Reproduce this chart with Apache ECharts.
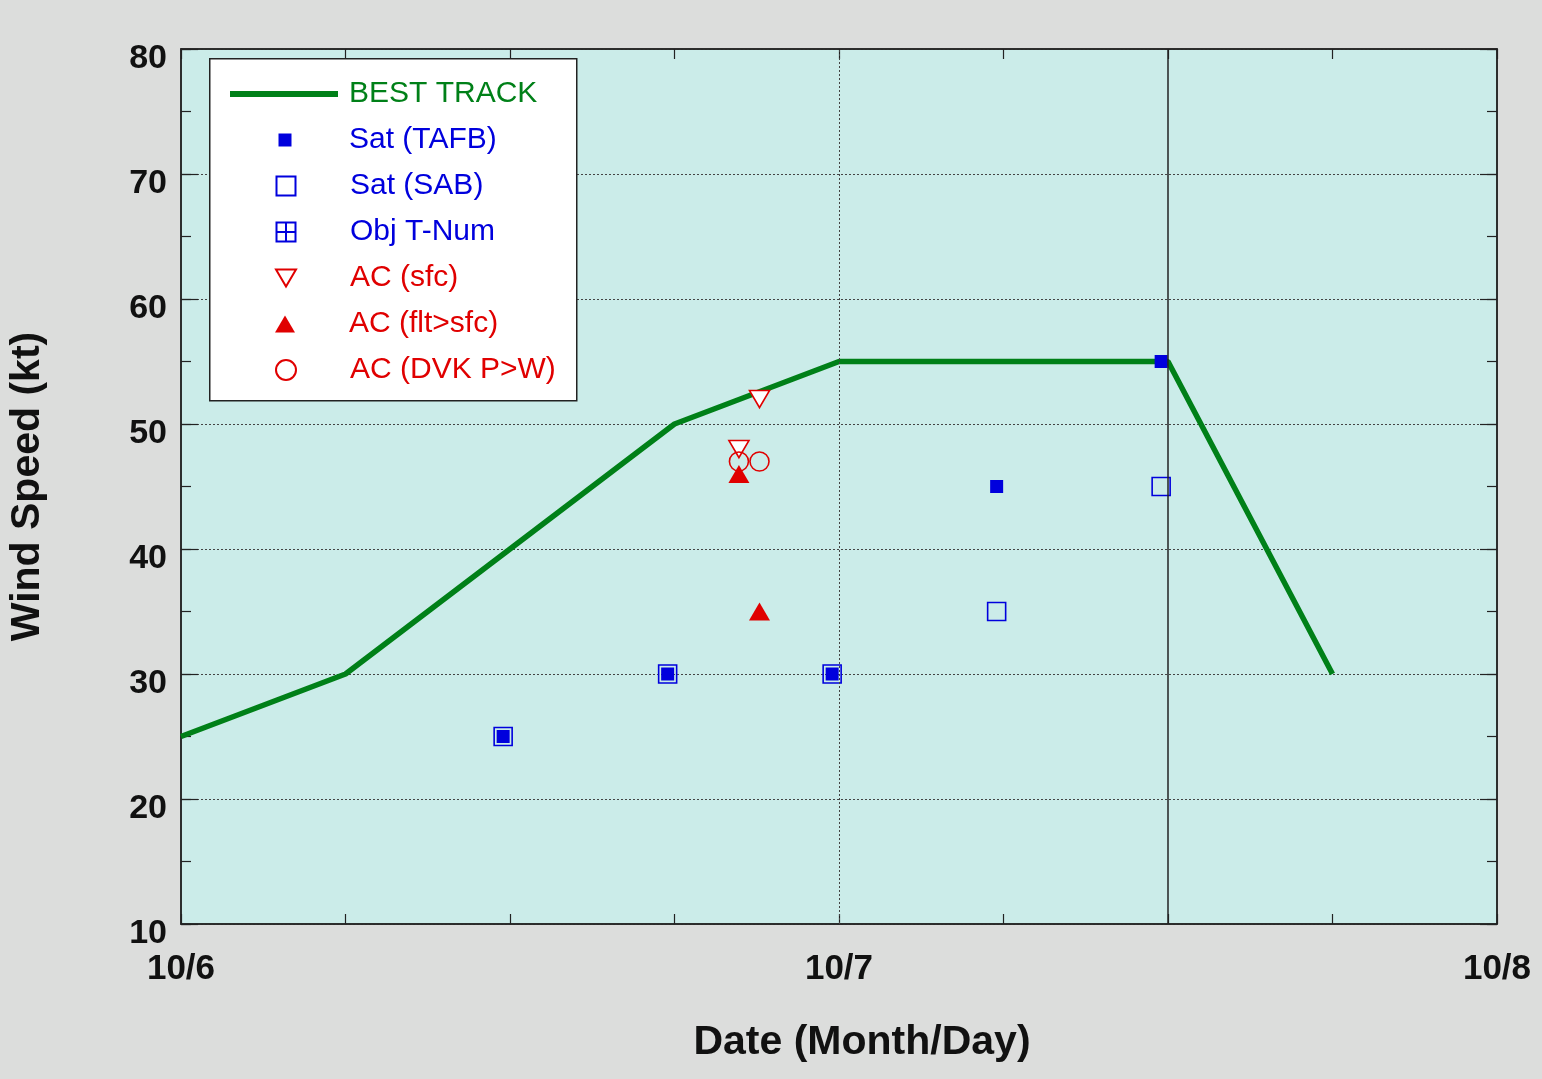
<!DOCTYPE html>
<html>
<head>
<meta charset="utf-8">
<script src="https://cdn.jsdelivr.net/npm/echarts@6/dist/echarts.min.js"></script>
<style>
html,body{margin:0;padding:0;background:#dcdddc;}
#c{width:1542px;height:1079px;}
</style>
</head>
<body>
<div id="c"></div>
<script>
// Hours after 10/6 00Z
const xTickLabels = {0: '10/6', 24: '10/7', 48: '10/8'};
const yTicks = [10, 20, 30, 40, 50, 60, 70, 80];

const btHours = [0, 6, 12, 18, 24, 30, 36, 42];
const btWind  = [25, 30, 40, 50, 55, 55, 55, 30];

const tafbHours = [11.75, 17.75, 23.75, 29.75, 35.75];
const tafbWind  = [25, 30, 30, 45, 55];

const sabHours = [11.75, 17.75, 23.75, 29.75, 35.75];
const sabWind  = [25, 30, 30, 35, 45];

const objHours = [];
const objWind  = [];

const acSfcHours = [20.35, 21.1];
const acSfcWind  = [48, 52];

const acFltHours = [20.35, 21.1];
const acFltWind  = [46, 35];

const dvkHours = [20.35, 21.1];
const dvkWind  = [47, 47];

const GREEN = '#008018', BLUE = '#0000dd', RED = '#e00000';
const FONT = "'Liberation Sans', Arial, sans-serif";

const zip = (a, b) => a.map((v, i) => [v, b[i]]);

const invTri = 'path://M0,0L20,0L10,17Z';
const boxPlus = 'path://M0,0L18,0L18,18L0,18Z M9,0L9,18 M0,9L18,9';

// legend rows: name, colour, icon, icon width, icon height
const legendNames  = ['BEST TRACK', 'Sat (TAFB)', 'Sat (SAB)', 'Obj T-Num', 'AC (sfc)', 'AC (flt>sfc)', 'AC (DVK P>W)'];
const legendColors = [GREEN, BLUE, BLUE, BLUE, RED, RED, RED];
const legendIcons  = ['rect', 'rect', 'rect', boxPlus, invTri, 'triangle', 'circle'];
const legendW      = [108, 13, 19, 19, 20, 20, 20];
const legendH      = [6, 13, 19, 19, 17, 17, 20];

const LEG_X0 = 230, LEG_CX = 285, LEG_TEXT_X = 349, LEG_Y0 = 92, LEG_DY = 46.0;
const legends = legendNames.map((n, i) => {
  const w = legendW[i];
  const left = i === 0 ? LEG_X0 : LEG_CX - w / 2;
  return {
    orient: 'vertical', left: left, top: LEG_Y0 + i * LEG_DY - 13, padding: 0, z: 6,
    itemWidth: w, itemHeight: legendH[i], selectedMode: false,
    textStyle: {fontFamily: FONT, fontSize: 30, lineHeight: 30, color: legendColors[i],
                padding: [0, 0, 0, LEG_TEXT_X - left - w - 5]},
    data: [{name: n, icon: legendIcons[i]}]
  };
});

const tickStyle = {color: '#222', width: 1.2};
const yBase = {type: 'value', min: yTicks[0], max: yTicks[yTicks.length - 1]};

const chart = echarts.init(document.getElementById('c'), null, {renderer: 'canvas'});
chart.setOption({
  backgroundColor: '#dcdddc',
  animation: false,
  grid: {left: 181, right: 45, top: 49, bottom: 155, show: true, outerBoundsMode: 'none', containLabel: false,
         backgroundColor: '#cbece9', borderColor: '#222', borderWidth: 1.5},
  graphic: [{
    type: 'rect', left: 209, top: 58, z: 5,
    shape: {width: 367, height: 342},
    style: {fill: '#ffffff', stroke: '#222', lineWidth: 1.5}
  }],
  legend: legends,
  xAxis: [{
    type: 'value', min: 0, max: 48, interval: 6,
    axisLine: {show: true, lineStyle: {color: '#222', width: 1.5}},
    axisTick: {show: true, inside: true, length: 10, lineStyle: tickStyle},
    splitLine: {show: false},
    axisLabel: {show: true, margin: 28, fontFamily: FONT, fontWeight: 'bold', fontSize: 35, color: '#111',
      formatter: v => xTickLabels[v] || ''},
    name: 'Date (Month/Day)', nameLocation: 'middle', nameGap: 98, nameMoveOverlap: false,
    nameTextStyle: {fontFamily: FONT, fontWeight: 'bold', fontSize: 41, color: '#111', padding: [0, 0, 0, 46]}
  }, {
    type: 'value', min: 0, max: 48, interval: 6, position: 'top',
    axisLine: {show: true, lineStyle: {color: '#222', width: 1.5}},
    axisTick: {show: true, inside: true, length: 10, lineStyle: tickStyle},
    axisLabel: {show: false}, splitLine: {show: false}
  }],
  yAxis: [Object.assign({}, yBase, {
    interval: 10, position: 'left',
    axisLine: {show: true, lineStyle: {color: '#222', width: 1.5}},
    axisTick: {show: true, inside: true, length: 17, lineStyle: tickStyle},
    splitLine: {show: true, lineStyle: {color: '#444', width: 1, type: [2, 2]}},
    axisLabel: {margin: 14, fontFamily: FONT, fontWeight: 'bold', fontSize: 34, color: '#111',
                verticalAlign: 'top', lineHeight: 20},
    name: 'Wind Speed (kt)', nameLocation: 'middle', nameGap: 133, nameMoveOverlap: false,
    nameTextStyle: {fontFamily: FONT, fontWeight: 'bold', fontSize: 41, color: '#111'}
  }), Object.assign({}, yBase, {
    interval: 5, position: 'left',
    axisLine: {show: false},
    axisTick: {show: true, inside: true, length: 10, lineStyle: tickStyle},
    axisLabel: {show: false}, splitLine: {show: false}
  }), Object.assign({}, yBase, {
    interval: 10, position: 'right',
    axisLine: {show: true, lineStyle: {color: '#222', width: 1.5}},
    axisTick: {show: true, inside: true, length: 17, lineStyle: tickStyle},
    axisLabel: {show: false}, splitLine: {show: false}
  }), Object.assign({}, yBase, {
    interval: 5, position: 'right',
    axisLine: {show: false},
    axisTick: {show: true, inside: true, length: 10, lineStyle: tickStyle},
    axisLabel: {show: false}, splitLine: {show: false}
  })],
  series: [
    {
      name: 'BEST TRACK', type: 'line', data: zip(btHours, btWind),
      symbol: 'none', lineStyle: {color: GREEN, width: 5.5}, itemStyle: {color: GREEN}, z: 2,
      markLine: {
        silent: true, symbol: 'none', label: {show: false},
        data: [
          {xAxis: 24, lineStyle: {color: '#444', width: 1, type: [2, 2]}},
          {xAxis: 36, lineStyle: {color: '#222', width: 1.5, type: 'solid'}}
        ]
      }
    },
    {
      name: 'Sat (SAB)', type: 'scatter', data: zip(sabHours, sabWind),
      symbol: 'rect', symbolSize: 18,
      itemStyle: {color: 'rgba(0,0,0,0)', borderColor: BLUE, borderWidth: 1.6, opacity: 1}, z: 3
    },
    {
      name: 'Sat (TAFB)', type: 'scatter', data: zip(tafbHours, tafbWind),
      symbol: 'rect', symbolSize: 13,
      itemStyle: {color: BLUE, opacity: 1}, z: 4
    },
    {
      name: 'Obj T-Num', type: 'scatter', data: zip(objHours, objWind),
      symbol: boxPlus, symbolSize: 18,
      itemStyle: {color: 'rgba(0,0,0,0)', borderColor: BLUE, borderWidth: 1.6, opacity: 1}, z: 3
    },
    {
      name: 'AC (sfc)', type: 'scatter', data: zip(acSfcHours, acSfcWind),
      symbol: invTri, symbolSize: [20, 17],
      itemStyle: {color: '#ffffff', borderColor: RED, borderWidth: 1.6, opacity: 1}, z: 5
    },
    {
      name: 'AC (flt>sfc)', type: 'scatter', data: zip(acFltHours, acFltWind),
      symbol: 'triangle', symbolSize: [21, 18],
      itemStyle: {color: RED, opacity: 1}, z: 6
    },
    {
      name: 'AC (DVK P>W)', type: 'scatter', data: zip(dvkHours, dvkWind),
      symbol: 'circle', symbolSize: 19,
      itemStyle: {color: 'rgba(0,0,0,0)', borderColor: RED, borderWidth: 1.6, opacity: 1}, z: 5
    }
  ]
});
</script>
</body>
</html>
